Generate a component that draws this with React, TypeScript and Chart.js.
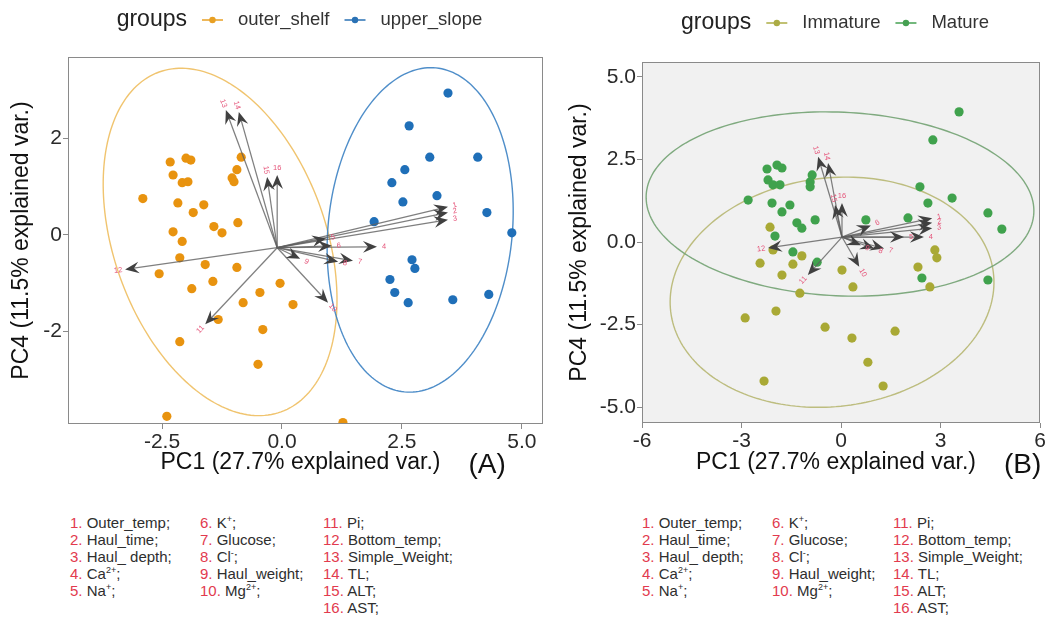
import React, { useEffect, useRef } from "react";
import { Chart, registerables } from "chart.js";

Chart.register(...registerables);

const FONT = "'Liberation Sans', Arial, Helvetica, sans-serif";
Chart.defaults.font.family = FONT;

// ---------------- Panel A data ----------------
const groupNamesA = ["outer_shelf", "upper_slope"];
const outerShelfPoints: [number, number][] = [
  [-2.33, 1.51], [-2.0, 1.59], [-1.9, 1.55], [-2.27, 1.24], [-2.08, 1.08], [-1.96, 1.1],
  [-2.9, 0.75], [-2.17, 0.66], [-1.85, 0.46], [-1.63, 0.62], [-2.27, 0.06], [-2.08, -0.14],
  [-2.13, -0.48], [-2.56, -0.81], [-1.88, -1.12], [-2.13, -2.22], [-2.4, -3.77], [-1.42, 0.17],
  [-1.25, 0.04], [-0.92, 0.25], [-0.85, 1.61], [-0.94, 1.35], [-1.04, 1.18], [-1.0, 1.1],
  [-0.04, -1.01], [0.23, -1.45], [-0.5, -2.69], [1.27, -3.9], [-1.6, -0.62], [-0.94, -0.68],
  [-1.44, -0.97], [-0.46, -1.2], [-0.81, -1.41], [-1.33, -1.76], [-0.4, -1.97],
];
const upperSlopePoints: [number, number][] = [
  [3.46, 2.94], [2.65, 2.26], [3.08, 1.61], [4.08, 1.61], [2.56, 1.35], [2.29, 1.08],
  [3.23, 0.81], [2.52, 0.68], [1.92, 0.27], [4.27, 0.46], [4.79, 0.04], [2.71, -0.52],
  [2.77, -0.7], [2.25, -0.93], [2.35, -1.2], [2.63, -1.41], [3.56, -1.35], [4.31, -1.24],
];
// ellipse: centre x, centre y, semi-major, semi-minor, angle (deg)
const ellipseOuterShelf = [-1.29, -0.15, 3.75, 2.21, 109.8];
const ellipseUpperSlope = [2.88, 0.1, 3.38, 1.92, 84.4];
const arrowOriginA = [-0.1, -0.27];
const loadingsAx = [3.46, 3.46, 3.46, 1.98, 0.92, 1.04, 1.48, 1.17, 0.38, 0.96, -1.6, -3.27, -1.17, -0.9, -0.31, -0.1];
const loadingsAy = [0.58, 0.46, 0.31, -0.25, -0.08, -0.23, -0.54, -0.56, -0.5, -1.41, -1.86, -0.72, 2.59, 2.55, 1.2, 1.24];
const xTicksA = [-2.5, 0, 2.5, 5];
const yTicksA = [-2, 0, 2];

// ---------------- Panel B data ----------------
const groupNamesB = ["Immature", "Mature"];
const immaturePoints: [number, number][] = [
  [-2.14, 0.45], [-2.05, -0.24], [-2.44, -0.64], [-1.78, -1.0], [-1.45, -0.67], [-1.18, -0.42],
  [-1.24, -1.55], [0.03, -0.85], [0.36, -1.36], [2.83, -0.24], [2.89, -0.48], [2.32, -0.76],
  [2.68, -1.36], [-2.89, -2.3], [-1.96, -2.09], [-0.48, -2.58], [0.33, -2.91], [1.63, -2.7],
  [0.81, -3.64], [1.27, -4.36], [-2.32, -4.21],
];
const maturePoints: [number, number][] = [
  [2.77, 3.09], [3.56, 3.94], [-2.23, 2.21], [-1.93, 2.33], [-1.78, 2.24], [-2.2, 1.88],
  [-2.05, 1.73], [-1.84, 1.73], [-0.93, 1.82], [-0.87, 2.03], [-0.93, 1.67], [-2.8, 1.27],
  [-2.08, 1.18], [-1.54, 1.12], [-1.78, 0.91], [2.38, 1.67], [2.62, 1.18], [3.35, 1.33],
  [4.43, 0.88], [4.85, 0.39], [4.43, -1.15], [-1.33, 0.58], [-1.18, 0.42], [-0.78, 0.67],
  [0.75, 0.67], [2.02, 0.73], [-1.99, 0.18], [-1.45, -0.3], [-0.72, -0.61], [2.44, -1.09],
];
const ellipseImmature = [-0.27, -1.52, 4.9, 3.46, 7];
const ellipseMature = [-0.03, 1.15, 5.85, 2.78, -2.6];
const arrowOriginB = [0.03, 0.15];
const loadingsBx = [2.75, 2.75, 2.75, 2.5, 1.9, 0.9, 1.3, 1.0, 0.6, 0.55, -1.0, -2.2, -0.69, -0.39, -0.18, 0.03];
const loadingsBy = [0.72, 0.58, 0.42, 0.15, 0.15, 0.5, -0.2, -0.2, -0.1, -0.75, -1.0, -0.18, 2.58, 2.39, 1.12, 1.18];
const xTicksB = [-6, -3, 0, 3, 6];
const yTicksB = [-5, -2.5, 0, 2.5, 5];

// ---------------- shared text ----------------
const varNumbers = ["1", "2", "3", "4", "5", "6", "7", "8", "9", "10", "11", "12", "13", "14", "15", "16"];
const varNameBase = ["Outer_temp", "Haul_time", "Haul_ depth", "Ca", "Na", "K", "Glucose", "Cl", "Haul_weight", "Mg", "Pi", "Bottom_temp", "Simple_Weight", "TL", "ALT", "AST"];
const varNameSup = ["", "", "", "2+", "+", "+", "", "-", "", "2+", "", "", "", "", "", ""];
const noteColumns = [[0, 1, 2, 3, 4], [5, 6, 7, 8, 9], [10, 11, 12, 13, 14, 15]];
const xTitle = "PC1 (27.7% explained var.)";
const yTitle = "PC4 (11.5% explained var.)";

type Group = { name: string; pts: [number, number][]; color: string; ellipse: number[]; ellColor: string; legColor: string };
type Spec = {
  tag: string; left: number; w: number; h: number;
  yAxisW: number; padR: number; padT: number; padB: number;
  xMin: number; xMax: number; yMin: number; yMax: number;
  xTicks: number[]; yTicks: number[]; xDec: number; yDec: number;
  bg: string | null; groups: Group[]; origin: number[]; lx: number[]; ly: number[];
  yTitleX: number;
};

const specA: Spec = {
  tag: "(A)", left: 0, w: 556, h: 480, yAxisW: 68, padR: 13, padT: 57, padB: 16,
  xMin: -4.46, xMax: 5.44, yMin: -3.93, yMax: 3.69, xTicks: xTicksA, yTicks: yTicksA, xDec: 1, yDec: 0,
  bg: null,
  groups: [
    { name: groupNamesA[0], pts: outerShelfPoints, color: "#e8930f", ellipse: ellipseOuterShelf, ellColor: "rgba(238,190,95,0.9)", legColor: "#e8a024" },
    { name: groupNamesA[1], pts: upperSlopePoints, color: "#1f6fb8", ellipse: ellipseUpperSlope, ellColor: "rgba(60,130,195,0.9)", legColor: "#2a72b5" },
  ],
  origin: arrowOriginA, lx: loadingsAx, ly: loadingsAy, yTitleX: 22,
};
const specB: Spec = {
  tag: "(B)", left: 560, w: 486, h: 480, yAxisW: 82, padR: 6, padT: 62, padB: 17,
  xMin: -6, xMax: 6, yMin: -5.48, yMax: 5.45, xTicks: xTicksB, yTicks: yTicksB, xDec: 0, yDec: 1,
  bg: "#f1f1f1",
  groups: [
    { name: groupNamesB[0], pts: immaturePoints, color: "#a9a935", ellipse: ellipseImmature, ellColor: "rgba(185,185,120,0.95)", legColor: "#acac45" },
    { name: groupNamesB[1], pts: maturePoints, color: "#40a24d", ellipse: ellipseMature, ellColor: "rgba(120,165,120,0.95)", legColor: "#45a052" },
  ],
  origin: arrowOriginB, lx: loadingsBx, ly: loadingsBy, yTitleX: 20,
};

function panelPlugin(s: Spec) {
  return {
    id: "panel" + s.tag.replace(/\W/g, ""),
    beforeDraw(chart: any) {
      const { ctx, chartArea: a } = chart;
      if (s.bg) {
        ctx.save();
        ctx.fillStyle = s.bg;
        ctx.fillRect(a.left, a.top, a.right - a.left, a.bottom - a.top);
        ctx.restore();
      }
    },
    beforeDatasetsDraw(chart: any) {
      const { ctx, chartArea: a, scales } = chart;
      const x = scales.x, y = scales.y;
      ctx.save();
      ctx.beginPath();
      ctx.rect(a.left, a.top, a.right - a.left, a.bottom - a.top);
      ctx.clip();
      s.groups.forEach((g) => {
        const [cx, cy, ea, eb, deg] = g.ellipse;
        const th = (deg * Math.PI) / 180;
        ctx.beginPath();
        for (let i = 0; i <= 200; i++) {
          const t = (i / 200) * 2 * Math.PI;
          const dx = cx + ea * Math.cos(th) * Math.cos(t) - eb * Math.sin(th) * Math.sin(t);
          const dy = cy + ea * Math.sin(th) * Math.cos(t) + eb * Math.cos(th) * Math.sin(t);
          const px = x.getPixelForValue(dx), py = y.getPixelForValue(dy);
          if (i === 0) ctx.moveTo(px, py); else ctx.lineTo(px, py);
        }
        ctx.closePath();
        ctx.strokeStyle = g.ellColor;
        ctx.lineWidth = 1.4;
        ctx.stroke();
      });
      ctx.restore();
    },
    afterDatasetsDraw(chart: any) {
      const { ctx, chartArea: a, scales } = chart;
      const x = scales.x, y = scales.y;
      const ox = x.getPixelForValue(s.origin[0]), oy = y.getPixelForValue(s.origin[1]);
      ctx.save();
      for (let i = 0; i < s.lx.length; i++) {
        const ex = x.getPixelForValue(s.lx[i]), ey = y.getPixelForValue(s.ly[i]);
        const dx = ex - ox, dy = ey - oy;
        const len = Math.hypot(dx, dy) || 1;
        const ux = dx / len, uy = dy / len;
        const nx = -uy, ny = ux;
        ctx.beginPath();
        ctx.moveTo(ox, oy);
        ctx.lineTo(ex - ux * 7, ey - uy * 7);
        ctx.strokeStyle = "rgba(95,95,95,0.8)";
        ctx.lineWidth = 1.25;
        ctx.stroke();
        const L = 14, W = 5.8, N = 9;
        ctx.beginPath();
        ctx.moveTo(ex, ey);
        ctx.lineTo(ex - ux * L + nx * W, ey - uy * L + ny * W);
        ctx.lineTo(ex - ux * N, ey - uy * N);
        ctx.lineTo(ex - ux * L - nx * W, ey - uy * L - ny * W);
        ctx.closePath();
        ctx.fillStyle = "#404040";
        ctx.fill();
        // label
        const lxp = ex + ux * 7, lyp = ey + uy * 7;
        ctx.save();
        ctx.translate(lxp, lyp);
        ctx.rotate(Math.abs(dx) < 1e-6 ? 0 : Math.atan(dy / dx));
        ctx.font = `7.5px ${FONT}`;
        ctx.fillStyle = "#e5557a";
        ctx.textAlign = "center";
        ctx.textBaseline = "middle";
        ctx.fillText(varNumbers[i], 0, 0);
        ctx.restore();
      }
      // panel border
      ctx.strokeStyle = "#8a8a8a";
      ctx.lineWidth = 1;
      ctx.strokeRect(a.left + 0.5, a.top + 0.5, a.right - a.left - 1, a.bottom - a.top - 1);
      ctx.restore();
    },
    afterDraw(chart: any) {
      const { ctx, chartArea: a } = chart;
      const midX = (a.left + a.right) / 2;
      const midY = (a.top + a.bottom) / 2;
      ctx.save();
      // legend
      ctx.textBaseline = "middle";
      ctx.font = `23px ${FONT}`;
      const wg = ctx.measureText("groups").width;
      ctx.font = `18.5px ${FONT}`;
      const wl = s.groups.map((g) => ctx.measureText(g.name).width);
      const total = wg + wl.reduce((acc, w) => acc + 51 + w, 0);
      let cx = midX - 6 - total / 2;
      const ly = s.tag === "(A)" ? 20 : 23;
      ctx.fillStyle = "#222";
      ctx.font = `23px ${FONT}`;
      ctx.textAlign = "left";
      ctx.fillText("groups", cx, ly);
      cx += wg + 15;
      s.groups.forEach((g, i) => {
        ctx.strokeStyle = g.legColor;
        ctx.lineWidth = 1.5;
        ctx.beginPath();
        ctx.moveTo(cx, ly);
        ctx.lineTo(cx + 21, ly);
        ctx.stroke();
        ctx.beginPath();
        ctx.arc(cx + 10.5, ly, 3.2, 0, Math.PI * 2);
        ctx.fillStyle = g.legColor;
        ctx.fill();
        cx += 36;
        ctx.fillStyle = "#333";
        ctx.font = `18.5px ${FONT}`;
        ctx.fillText(g.name, cx, ly);
        cx += wl[i] + 15;
      });
      // x title
      ctx.font = `23px ${FONT}`;
      ctx.fillStyle = "#111";
      ctx.textAlign = "center";
      const tx = midX - 5;
      ctx.fillText(xTitle, tx, 463);
      const tw = ctx.measureText(xTitle).width;
      ctx.font = `28px ${FONT}`;
      ctx.textAlign = "left";
      ctx.fillText(s.tag, tx + tw / 2 + 28, 465);
      // y title
      ctx.save();
      ctx.translate(s.yTitleX, midY);
      ctx.rotate(-Math.PI / 2);
      ctx.font = `23px ${FONT}`;
      ctx.textAlign = "center";
      ctx.fillStyle = "#111";
      ctx.fillText(yTitle, 0, 0);
      ctx.restore();
      ctx.restore();
    },
  };
}

function makeConfig(s: Spec): any {
  return {
    type: "scatter",
    data: {
      datasets: s.groups.map((g) => ({
        label: g.name,
        data: g.pts.map(([px, py]) => ({ x: px, y: py })),
        backgroundColor: g.color,
        borderWidth: 0,
        pointRadius: 4.6,
        pointHoverRadius: 4.6,
      })),
    },
    options: {
      responsive: false,
      animation: false,
      events: [],
      layout: { padding: { left: 0, right: s.padR, top: s.padT, bottom: s.padB } },
      plugins: { legend: { display: false }, tooltip: { enabled: false }, title: { display: false } },
      scales: {
        x: {
          type: "linear",
          min: s.xMin,
          max: s.xMax,
          afterBuildTicks: (sc: any) => { sc.ticks = s.xTicks.map((v) => ({ value: v })); },
          afterFit: (sc: any) => { sc.height = 40; sc.paddingLeft = 0; sc.paddingRight = 0; },
          ticks: {
            font: { family: FONT, size: 21 },
            color: "#2a2a2a",
            padding: 1,
            maxRotation: 0,
            autoSkip: false,
            callback: (v: number) => Number(v).toFixed(s.xDec),
          },
          grid: { display: true, drawOnChartArea: false, drawTicks: true, tickLength: 5, color: "#8a8a8a" },
          border: { display: false },
        },
        y: {
          type: "linear",
          min: s.yMin,
          max: s.yMax,
          afterBuildTicks: (sc: any) => { sc.ticks = s.yTicks.map((v) => ({ value: v })); },
          afterFit: (sc: any) => { sc.width = s.yAxisW; sc.paddingTop = 0; sc.paddingBottom = 0; },
          ticks: {
            font: { family: FONT, size: 21 },
            color: "#2a2a2a",
            padding: 1,
            autoSkip: false,
            callback: (v: number) => Number(v).toFixed(s.yDec),
          },
          grid: { display: true, drawOnChartArea: false, drawTicks: true, tickLength: 5, color: "#8a8a8a" },
          border: { display: false },
        },
      },
    },
    plugins: [panelPlugin(s)],
  };
}

function Panel({ spec }: { spec: Spec }) {
  const ref = useRef<HTMLCanvasElement>(null);
  useEffect(() => {
    const chart = new Chart(ref.current as HTMLCanvasElement, makeConfig(spec));
    return () => chart.destroy();
  }, [spec]);
  return (
    <canvas
      ref={ref}
      width={spec.w}
      height={spec.h}
      style={{ position: "absolute", left: spec.left, top: 0, width: spec.w, height: spec.h }}
    />
  );
}

function Notes({ cols }: { cols: number[] }) {
  return (
    <>
      {noteColumns.map((idxs, c) => (
        <div
          key={c}
          style={{
            position: "absolute",
            left: cols[c],
            top: 514,
            fontFamily: FONT,
            fontSize: 15,
            lineHeight: "17px",
            color: "#2e2e2e",
            whiteSpace: "nowrap",
          }}
        >
          {idxs.map((i) => (
            <div key={i}>
              <span style={{ color: "#e23a4e" }}>{varNumbers[i]}.</span> {varNameBase[i]}
              {varNameSup[i] ? (
                <sup style={{ fontSize: 9, lineHeight: 0, verticalAlign: "6px" }}>{varNameSup[i]}</sup>
              ) : null}
              ;
            </div>
          ))}
        </div>
      ))}
    </>
  );
}

export default function App() {
  return (
    <div style={{ position: "absolute", left: 0, top: 0, width: 1046, height: 632, background: "#fff", overflow: "hidden" }}>
      <Panel spec={specA} />
      <Panel spec={specB} />
      <Notes cols={[70, 200, 323]} />
      <Notes cols={[642, 772, 893]} />
    </div>
  );
}
